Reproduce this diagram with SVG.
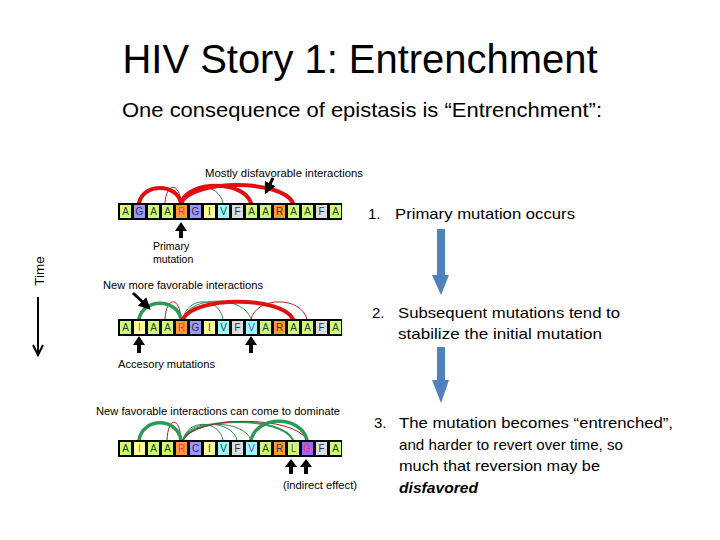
<svg xmlns="http://www.w3.org/2000/svg" width="720" height="540" viewBox="0 0 720 540">
<defs>
<style>
.t{font-family:"Liberation Sans",Arial,sans-serif;fill:#000}
.sm{font-size:10.5px}
.rt{font-size:15px}
.bar{fill:#000}
.cA{fill:#ccff77}.cG{fill:#9999ff}.cR{fill:#ff9933}.cI{fill:#ffff99}.cV{fill:#99ffff}.cF{fill:#dddddd}.cP{fill:#9966ff}
.lt{font-family:"Liberation Sans",Arial,sans-serif;font-size:10px;text-anchor:middle;fill:#333}
.pk{fill:#ff3366}.pu{fill:#7733cc}
.arc{fill:none;stroke-linecap:round}
.rT{stroke:#e01010;stroke-width:4}
.rt1{stroke:#b02020;stroke-width:1}
.gT{stroke:#2a9a55;stroke-width:3.5}
.gM{stroke:#2a9a55;stroke-width:2}
.gt1{stroke:#2a8a55;stroke-width:1}
.blk{fill:#000}
.blue{fill:#4f81bd}
</style>
<marker id="ah" viewBox="0 0 10 10" refX="8" refY="5" markerWidth="4" markerHeight="4" orient="auto"><path d="M0,0 L10,5 L0,10 z" fill="#000"/></marker>
</defs>
<rect width="720" height="540" fill="#fff"/>

<g id="title">
<text class="t" x="360" y="73" font-size="40" text-anchor="middle" textLength="475" lengthAdjust="spacingAndGlyphs">HIV Story 1: Entrenchment</text>
<text class="t" x="362" y="117" font-size="21" text-anchor="middle" textLength="480" lengthAdjust="spacingAndGlyphs">One consequence of epistasis is “Entrenchment”:</text>
</g>

<g id="time">
<text class="t" transform="translate(44,271) rotate(-90)" font-size="13.5" text-anchor="middle">Time</text>
<line x1="38" y1="297" x2="38" y2="354" stroke="#000" stroke-width="2"/>
<polyline points="33,345 38,355 43,345" fill="none" stroke="#000" stroke-width="2"/>
</g>

<g id="connectors">
<!-- seq 1 arcs -->
<path class="arc rt1" d="M165,203 C166,182 180,182 181,203"/>
<path class="arc gt1" d="M183,203 C187,182 219,182 223,203"/>
<path class="arc rT" d="M139,203 C143,183 177,183 181,203"/>
<path class="arc rT" d="M181,203 C188,180 244,180 251,203"/>
<path class="arc rT" d="M181,203 C192,179 282,179 293,203"/>
<!-- seq 2 arcs -->
<path class="arc rt1" d="M165,319 C166,296 180,296 181,319"/>
<path class="arc gt1" d="M183,319 C187,296 219,296 223,319"/>
<path class="arc gt1" d="M183,319 C190,295 244,295 251,319"/>
<path class="arc rt1" d="M251,319 C257,296 301,296 307,319"/>
<path class="arc gT" d="M139,319 C143,298 177,298 181,319"/>
<path class="arc rT" d="M183,319 C194,296 282,296 293,319"/>
<!-- seq 3 arcs -->
<path class="arc rt1" d="M167,440 C168,416 180,416 181,440"/>
<path class="arc gt1" d="M183,440 C187,419 219,419 223,440"/>
<path class="arc gt1" d="M183,440 C188,419 232,419 237,440"/>
<path class="arc gt1" d="M183,440 C190,419 244,419 251,440"/>
<path class="arc gM" d="M183,440 C194,416 282,416 293,440"/>
<path class="arc rt1" d="M183,440 C195,415 295,415 307,440"/>
<path class="arc gT" d="M139,440 C143,417 177,417 181,440"/>
<path class="arc gT" d="M251,440 C257,415 301,415 307,440"/>
<!-- pointer arrows -->
<line x1="273" y1="178" x2="266" y2="192" stroke="#000" stroke-width="3" marker-end="url(#ah)"/>
<line x1="133" y1="293" x2="149" y2="308" stroke="#000" stroke-width="3" marker-end="url(#ah)"/>
<polygon class="blk" points="181,222 175,231 179,231 179,238 183,238 183,231 187,231"/>
<polygon class="blk" points="139,336 133,345 137,345 137,353 141,353 141,345 145,345"/>
<polygon class="blk" points="251,336 245,345 249,345 249,353 253,353 253,345 257,345"/>
<polygon class="blk" points="291,459 285,467 289,467 289,474 293,474 293,467 297,467"/>
<polygon class="blk" points="306,459 300,467 304,467 304,474 308,474 308,467 312,467"/>
<!-- blue process arrows -->
<polygon class="blue" points="437,229 445,229 445,275 449,275 441,295 432,275 437,275"/>
<polygon class="blue" points="437,347 445,347 445,380 449,380 441,403 432,380 437,380"/>
</g>

<g id="seq1">
<rect class="bar" x="118" y="203" width="224" height="17"/>
<rect class="cA" x="120" y="205" width="11" height="13"/><text class="lt" x="125.5" y="215">A</text>
<rect class="cG" x="134" y="205" width="11" height="13"/><text class="lt" x="139.5" y="215">G</text>
<rect class="cA" x="148" y="205" width="11" height="13"/><text class="lt" x="153.5" y="215">A</text>
<rect class="cA" x="162" y="205" width="11" height="13"/><text class="lt" x="167.5" y="215">A</text>
<rect class="cR" x="176" y="205" width="11" height="13"/><text class="lt pk" x="181.5" y="215">R</text>
<rect class="cG" x="190" y="205" width="11" height="13"/><text class="lt" x="195.5" y="215">G</text>
<rect class="cI" x="204" y="205" width="11" height="13"/><text class="lt" x="209.5" y="215">I</text>
<rect class="cV" x="218" y="205" width="11" height="13"/><text class="lt" x="223.5" y="215">V</text>
<rect class="cF" x="232" y="205" width="11" height="13"/><text class="lt" x="237.5" y="215">F</text>
<rect class="cA" x="246" y="205" width="11" height="13"/><text class="lt" x="251.5" y="215">A</text>
<rect class="cA" x="260" y="205" width="11" height="13"/><text class="lt" x="265.5" y="215">A</text>
<rect class="cR" x="274" y="205" width="11" height="13"/><text class="lt" x="279.5" y="215">R</text>
<rect class="cA" x="288" y="205" width="11" height="13"/><text class="lt" x="293.5" y="215">A</text>
<rect class="cA" x="302" y="205" width="11" height="13"/><text class="lt" x="307.5" y="215">A</text>
<rect class="cF" x="316" y="205" width="11" height="13"/><text class="lt" x="321.5" y="215">F</text>
<rect class="cA" x="330" y="205" width="11" height="13"/><text class="lt" x="335.5" y="215">A</text>
</g>

<g id="seq2">
<rect class="bar" x="118" y="319" width="224" height="17"/>
<rect class="cA" x="120" y="321" width="11" height="13"/><text class="lt" x="125.5" y="331">A</text>
<rect class="cI" x="134" y="321" width="11" height="13"/><text class="lt pk" x="139.5" y="331">I</text>
<rect class="cA" x="148" y="321" width="11" height="13"/><text class="lt" x="153.5" y="331">A</text>
<rect class="cA" x="162" y="321" width="11" height="13"/><text class="lt" x="167.5" y="331">A</text>
<rect class="cR" x="176" y="321" width="11" height="13"/><text class="lt pk" x="181.5" y="331">R</text>
<rect class="cG" x="190" y="321" width="11" height="13"/><text class="lt" x="195.5" y="331">G</text>
<rect class="cI" x="204" y="321" width="11" height="13"/><text class="lt" x="209.5" y="331">I</text>
<rect class="cV" x="218" y="321" width="11" height="13"/><text class="lt" x="223.5" y="331">V</text>
<rect class="cF" x="232" y="321" width="11" height="13"/><text class="lt" x="237.5" y="331">F</text>
<rect class="cV" x="246" y="321" width="11" height="13"/><text class="lt pu" x="251.5" y="331">V</text>
<rect class="cA" x="260" y="321" width="11" height="13"/><text class="lt" x="265.5" y="331">A</text>
<rect class="cR" x="274" y="321" width="11" height="13"/><text class="lt" x="279.5" y="331">R</text>
<rect class="cA" x="288" y="321" width="11" height="13"/><text class="lt" x="293.5" y="331">A</text>
<rect class="cA" x="302" y="321" width="11" height="13"/><text class="lt" x="307.5" y="331">A</text>
<rect class="cF" x="316" y="321" width="11" height="13"/><text class="lt" x="321.5" y="331">F</text>
<rect class="cA" x="330" y="321" width="11" height="13"/><text class="lt" x="335.5" y="331">A</text>
</g>

<g id="seq3">
<rect class="bar" x="118" y="440" width="224" height="17"/>
<rect class="cA" x="120" y="442" width="11" height="13"/><text class="lt" x="125.5" y="452">A</text>
<rect class="cI" x="134" y="442" width="11" height="13"/><text class="lt pk" x="139.5" y="452">I</text>
<rect class="cA" x="148" y="442" width="11" height="13"/><text class="lt" x="153.5" y="452">A</text>
<rect class="cA" x="162" y="442" width="11" height="13"/><text class="lt" x="167.5" y="452">A</text>
<rect class="cR" x="176" y="442" width="11" height="13"/><text class="lt pk" x="181.5" y="452">R</text>
<rect class="cG" x="190" y="442" width="11" height="13"/><text class="lt" x="195.5" y="452">C</text>
<rect class="cI" x="204" y="442" width="11" height="13"/><text class="lt" x="209.5" y="452">I</text>
<rect class="cV" x="218" y="442" width="11" height="13"/><text class="lt" x="223.5" y="452">V</text>
<rect class="cF" x="232" y="442" width="11" height="13"/><text class="lt" x="237.5" y="452">F</text>
<rect class="cV" x="246" y="442" width="11" height="13"/><text class="lt pu" x="251.5" y="452">V</text>
<rect class="cA" x="260" y="442" width="11" height="13"/><text class="lt" x="265.5" y="452">A</text>
<rect class="cR" x="274" y="442" width="11" height="13"/><text class="lt" x="279.5" y="452">R</text>
<rect class="cA" x="288" y="442" width="11" height="13"/><text class="lt pu" x="293.5" y="452">L</text>
<rect class="cP" x="302" y="442" width="11" height="13"/><text class="lt pk" x="307.5" y="452">G</text>
<rect class="cF" x="316" y="442" width="11" height="13"/><text class="lt" x="321.5" y="452">F</text>
<rect class="cA" x="330" y="442" width="11" height="13"/><text class="lt" x="335.5" y="452">A</text>
</g>

<g id="labels">
<text class="t sm" x="205" y="177" textLength="158" lengthAdjust="spacingAndGlyphs">Mostly disfavorable interactions</text>
<text class="t sm" x="153" y="250">Primary</text>
<text class="t sm" x="153" y="263">mutation</text>
<text class="t sm" x="103" y="289" textLength="160" lengthAdjust="spacingAndGlyphs">New more favorable interactions</text>
<text class="t sm" x="118" y="368" textLength="97" lengthAdjust="spacingAndGlyphs">Accesory mutations</text>
<text class="t sm" x="96" y="415" textLength="244" lengthAdjust="spacingAndGlyphs">New favorable interactions can come to dominate</text>
<text class="t sm" x="283" y="489" textLength="74" lengthAdjust="spacingAndGlyphs">(indirect effect)</text>
</g>

<g id="steps">
<text class="t rt" x="368" y="219">1.</text>
<text class="t rt" x="395" y="219" textLength="180" lengthAdjust="spacingAndGlyphs">Primary mutation occurs</text>
<text class="t rt" x="372" y="318">2.</text>
<text class="t rt" x="398" y="318" textLength="222" lengthAdjust="spacingAndGlyphs">Subsequent mutations tend to</text>
<text class="t rt" x="398" y="339" textLength="204" lengthAdjust="spacingAndGlyphs">stabilize the initial mutation</text>
<text class="t rt" x="374" y="428">3.</text>
<text class="t rt" x="399" y="428" textLength="274" lengthAdjust="spacingAndGlyphs">The mutation becomes “entrenched”,</text>
<text class="t rt" x="399" y="450" textLength="224" lengthAdjust="spacingAndGlyphs">and harder to revert over time, so</text>
<text class="t rt" x="399" y="471" textLength="201" lengthAdjust="spacingAndGlyphs">much that reversion may be</text>
<text class="t rt" x="399" y="493" font-weight="bold" font-style="italic" textLength="79" lengthAdjust="spacingAndGlyphs">disfavored</text>
</g>
</svg>
